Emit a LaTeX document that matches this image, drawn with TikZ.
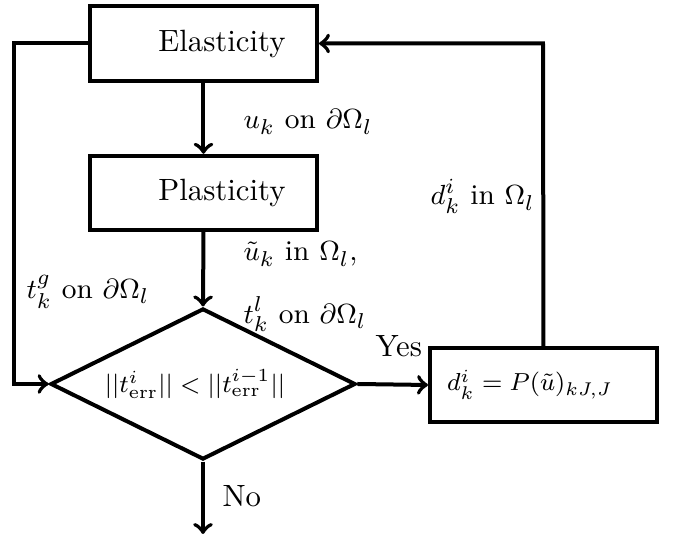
\documentclass[tikz,border=0pt]{standalone}
\usetikzlibrary{shapes.geometric}
\begin{document}
\begin{tikzpicture}[x=0.325pt,y=-0.325pt,
  box/.style={draw,line width=1.3pt,rectangle,inner sep=0pt,minimum width=73.8pt,minimum height=24.2pt},
  dec/.style={draw,line width=1.3pt,diamond,aspect=2,inner sep=0pt,minimum width=99.1pt,minimum height=49.1pt},
  conn/.style={line width=1.3pt,->},
  small/.style={font=\fontsize{8.5}{10}\selectfont},
  lbl/.style={inner sep=0pt,anchor=west,font=\fontsize{9.3}{11}\selectfont}]
\useasboundingbox (0,0) rectangle (676,540);
\node[box] (ela) at (203.5,43.5) {\hspace*{12pt}Elasticity};
\node[box] (pla) at (203.5,193) {\hspace*{12pt}Plasticity};
\node[dec,small] (dia) at (203,384) {$||t^i_{\mathrm{err}}|| < ||t^{i-1}_{\mathrm{err}}||$\hspace*{5.2pt}};
\node[box,small] (upd) at (543.5,385) {$d^i_k = P(\tilde u)_{kJ,J}$\hspace*{8.8pt}};
\coordinate (lc) at (14,43.5);
\coordinate (ld) at (14,384);
\coordinate (rc) at (543,43.5);
\coordinate (end) at (203,534);
\draw[conn] (ela.south) -- (pla.north);
\draw[conn] (pla.south) -- (dia.north);
\draw[conn] (dia.south) -- (end);
\draw[conn] (dia.east) -- (upd.west);
\draw[conn] (ela.west) -- (lc) -- (ld) -- (dia.west);
\draw[conn] (upd.north) -- (rc) -- (ela.east);
\node[lbl] (l1) at (243,122) {$u_k$ on $\partial\Omega_l$};
\node[lbl] (l2) at (243,254) {$\tilde u_k$ in $\Omega_l$,};
\node[lbl] (l3) at (243,314) {$t^l_k$ on $\partial\Omega_l$};
\node[lbl] (l4) at (26,292) {$t^g_k$ on $\partial\Omega_l$};
\node[lbl] (l5) at (430,196) {$d^i_k$ in $\Omega_l$};
\node[lbl,font=\normalsize] (yes) at (375,346) {Yes};
\node[lbl,font=\normalsize] (no) at (222,496) {No};
\end{tikzpicture}
\end{document}
